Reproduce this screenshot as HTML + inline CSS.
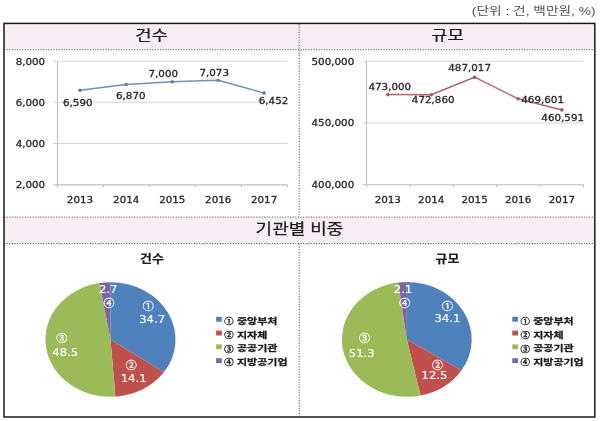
<!DOCTYPE html>
<html lang="ko">
<head>
<meta charset="utf-8">
<style>
html,body{margin:0;padding:0;background:#fff;}
body{width:600px;height:421px;overflow:hidden;}
svg{display:block;will-change:transform;filter:blur(0.3px);}
</style>
</head>
<body>
<svg width="600" height="421" viewBox="0 0 600 421">
<rect x="4" y="24" width="591" height="25.5" fill="#f7edf4"/>
<rect x="4" y="217.5" width="591" height="25.5" fill="#f7edf4"/>
<g stroke="#5a5a5a" stroke-width="1" stroke-dasharray="1.2 1.4" fill="none">
<line x1="4" y1="49.7" x2="595" y2="49.7"/>
<line x1="4" y1="217.1" x2="595" y2="217.1"/>
<line x1="4" y1="243.5" x2="595" y2="243.5"/>
<line x1="299.2" y1="24" x2="299.2" y2="216.6"/>
<line x1="299.2" y1="244" x2="299.2" y2="416"/>
</g>
<text transform="matrix(1.1430 0 0 0.9143 471.86 14.76)" font-family="'Liberation Sans', 'Noto Sans CJK KR', sans-serif" font-weight="400" font-size="12" fill="#505050" text-anchor="start">(단위 : 건, 백만원, %)</text>
<text transform="matrix(1.0450 0 0 0.8300 151.60 39.85)" font-family="'Liberation Sans', 'Noto Sans CJK KR', sans-serif" font-weight="400" font-size="17" fill="#1e1e1e" text-anchor="middle" stroke="#1e1e1e" stroke-width="0.3">건수</text>
<text transform="matrix(1.0450 0 0 0.8300 447.60 39.85)" font-family="'Liberation Sans', 'Noto Sans CJK KR', sans-serif" font-weight="400" font-size="17" fill="#1e1e1e" text-anchor="middle" stroke="#1e1e1e" stroke-width="0.3">규모</text>
<text transform="matrix(1.0600 0 0 0.8400 299.50 234.00)" font-family="'Liberation Sans', 'Noto Sans CJK KR', sans-serif" font-weight="400" font-size="17" fill="#1e1e1e" text-anchor="middle" stroke="#1e1e1e" stroke-width="0.3">기관별 비중</text>
<g stroke="#d4d4d4" stroke-width="1.1">
<line x1="53.5" y1="61.2" x2="287.5" y2="61.2"/>
<line x1="53.5" y1="102.3" x2="287.5" y2="102.3"/>
<line x1="53.5" y1="143.5" x2="287.5" y2="143.5"/>
</g>
<g stroke="#bdbdbd" stroke-width="1.1">
<line x1="57.5" y1="61.2" x2="57.5" y2="187.4"/>
<line x1="53.5" y1="184.9" x2="287.5" y2="184.9"/>
<line x1="103.5" y1="184.9" x2="103.5" y2="187.1"/>
<line x1="149.5" y1="184.9" x2="149.5" y2="187.1"/>
<line x1="195.5" y1="184.9" x2="195.5" y2="187.1"/>
<line x1="241.5" y1="184.9" x2="241.5" y2="187.1"/>
<line x1="287.5" y1="184.9" x2="287.5" y2="187.1"/>
</g>
<text transform="matrix(1.0333 0 0 0.8750 45.20 64.55)" font-family="'DejaVu Sans', sans-serif" font-weight="400" font-size="10" fill="#262626" text-anchor="end" stroke="#262626" stroke-width="0.3">8,000</text>
<text transform="matrix(1.0333 0 0 0.8750 45.20 105.55)" font-family="'DejaVu Sans', sans-serif" font-weight="400" font-size="10" fill="#262626" text-anchor="end" stroke="#262626" stroke-width="0.3">6,000</text>
<text transform="matrix(1.0333 0 0 0.8750 45.20 146.65)" font-family="'DejaVu Sans', sans-serif" font-weight="400" font-size="10" fill="#262626" text-anchor="end" stroke="#262626" stroke-width="0.3">4,000</text>
<text transform="matrix(1.0333 0 0 0.8750 45.20 188.35)" font-family="'DejaVu Sans', sans-serif" font-weight="400" font-size="10" fill="#262626" text-anchor="end" stroke="#262626" stroke-width="0.3">2,000</text>
<text transform="matrix(1.0333 0 0 0.8750 80.00 203.10)" font-family="'DejaVu Sans', sans-serif" font-weight="400" font-size="10" fill="#262626" text-anchor="middle" stroke="#262626" stroke-width="0.3">2013</text>
<text transform="matrix(1.0333 0 0 0.8750 126.20 203.10)" font-family="'DejaVu Sans', sans-serif" font-weight="400" font-size="10" fill="#262626" text-anchor="middle" stroke="#262626" stroke-width="0.3">2014</text>
<text transform="matrix(1.0333 0 0 0.8750 172.30 203.10)" font-family="'DejaVu Sans', sans-serif" font-weight="400" font-size="10" fill="#262626" text-anchor="middle" stroke="#262626" stroke-width="0.3">2015</text>
<text transform="matrix(1.0333 0 0 0.8750 218.20 203.10)" font-family="'DejaVu Sans', sans-serif" font-weight="400" font-size="10" fill="#262626" text-anchor="middle" stroke="#262626" stroke-width="0.3">2016</text>
<text transform="matrix(1.0333 0 0 0.8750 264.10 203.10)" font-family="'DejaVu Sans', sans-serif" font-weight="400" font-size="10" fill="#262626" text-anchor="middle" stroke="#262626" stroke-width="0.3">2017</text>
<polyline points="80.0,90.3 126.2,84.5 172.3,81.8 218.2,80.3 264.1,93.1" fill="none" stroke="#7290b8" stroke-width="1.5" stroke-linejoin="round"/>
<g fill="#5f7fa8"><circle cx="80.0" cy="90.3" r="1.8"/><circle cx="126.2" cy="84.5" r="1.8"/><circle cx="172.3" cy="81.8" r="1.8"/><circle cx="218.2" cy="80.3" r="1.8"/><circle cx="264.1" cy="93.1" r="1.8"/></g>
<text transform="matrix(1.0333 0 0 0.8750 77.80 106.30)" font-family="'DejaVu Sans', sans-serif" font-weight="400" font-size="10" fill="#262626" text-anchor="middle" stroke="#262626" stroke-width="0.3">6,590</text>
<text transform="matrix(1.0333 0 0 0.8750 130.80 99.00)" font-family="'DejaVu Sans', sans-serif" font-weight="400" font-size="10" fill="#262626" text-anchor="middle" stroke="#262626" stroke-width="0.3">6,870</text>
<text transform="matrix(1.0333 0 0 0.8750 163.30 77.40)" font-family="'DejaVu Sans', sans-serif" font-weight="400" font-size="10" fill="#262626" text-anchor="middle" stroke="#262626" stroke-width="0.3">7,000</text>
<text transform="matrix(1.0333 0 0 0.8750 214.20 76.00)" font-family="'DejaVu Sans', sans-serif" font-weight="400" font-size="10" fill="#262626" text-anchor="middle" stroke="#262626" stroke-width="0.3">7,073</text>
<text transform="matrix(1.0333 0 0 0.8750 273.50 104.40)" font-family="'DejaVu Sans', sans-serif" font-weight="400" font-size="10" fill="#262626" text-anchor="middle" stroke="#262626" stroke-width="0.3">6,452</text>
<g stroke="#d4d4d4" stroke-width="1.1">
<line x1="362.5" y1="61.2" x2="583.5" y2="61.2"/>
<line x1="362.5" y1="123.0" x2="583.5" y2="123.0"/>
</g>
<g stroke="#bdbdbd" stroke-width="1.1">
<line x1="366.5" y1="61.2" x2="366.5" y2="187.3"/>
<line x1="362.5" y1="184.8" x2="583.5" y2="184.8"/>
<line x1="409.9" y1="184.8" x2="409.9" y2="187.0"/>
<line x1="453.3" y1="184.8" x2="453.3" y2="187.0"/>
<line x1="496.7" y1="184.8" x2="496.7" y2="187.0"/>
<line x1="540.1" y1="184.8" x2="540.1" y2="187.0"/>
<line x1="583.5" y1="184.8" x2="583.5" y2="187.0"/>
</g>
<text transform="matrix(1.0333 0 0 0.8750 354.20 64.55)" font-family="'DejaVu Sans', sans-serif" font-weight="400" font-size="10" fill="#262626" text-anchor="end" stroke="#262626" stroke-width="0.3">500,000</text>
<text transform="matrix(1.0333 0 0 0.8750 354.20 126.35)" font-family="'DejaVu Sans', sans-serif" font-weight="400" font-size="10" fill="#262626" text-anchor="end" stroke="#262626" stroke-width="0.3">450,000</text>
<text transform="matrix(1.0333 0 0 0.8750 354.20 188.15)" font-family="'DejaVu Sans', sans-serif" font-weight="400" font-size="10" fill="#262626" text-anchor="end" stroke="#262626" stroke-width="0.3">400,000</text>
<text transform="matrix(1.0333 0 0 0.8750 387.80 203.30)" font-family="'DejaVu Sans', sans-serif" font-weight="400" font-size="10" fill="#262626" text-anchor="middle" stroke="#262626" stroke-width="0.3">2013</text>
<text transform="matrix(1.0333 0 0 0.8750 431.20 203.30)" font-family="'DejaVu Sans', sans-serif" font-weight="400" font-size="10" fill="#262626" text-anchor="middle" stroke="#262626" stroke-width="0.3">2014</text>
<text transform="matrix(1.0333 0 0 0.8750 474.60 203.30)" font-family="'DejaVu Sans', sans-serif" font-weight="400" font-size="10" fill="#262626" text-anchor="middle" stroke="#262626" stroke-width="0.3">2015</text>
<text transform="matrix(1.0333 0 0 0.8750 518.10 203.30)" font-family="'DejaVu Sans', sans-serif" font-weight="400" font-size="10" fill="#262626" text-anchor="middle" stroke="#262626" stroke-width="0.3">2016</text>
<text transform="matrix(1.0333 0 0 0.8750 561.90 203.30)" font-family="'DejaVu Sans', sans-serif" font-weight="400" font-size="10" fill="#262626" text-anchor="middle" stroke="#262626" stroke-width="0.3">2017</text>
<polyline points="387.8,94.6 431.2,94.7 474.6,77.2 518.1,98.8 561.9,109.9" fill="none" stroke="#b4646a" stroke-width="1.5" stroke-linejoin="round"/>
<g fill="#a45a60"><circle cx="387.8" cy="94.6" r="1.8"/><circle cx="431.2" cy="94.7" r="1.8"/><circle cx="474.6" cy="77.2" r="1.8"/><circle cx="518.1" cy="98.8" r="1.8"/><circle cx="561.9" cy="109.9" r="1.8"/></g>
<text transform="matrix(1.0333 0 0 0.8750 389.80 90.00)" font-family="'DejaVu Sans', sans-serif" font-weight="400" font-size="10" fill="#262626" text-anchor="middle" stroke="#262626" stroke-width="0.3">473,000</text>
<text transform="matrix(1.0333 0 0 0.8750 433.20 103.00)" font-family="'DejaVu Sans', sans-serif" font-weight="400" font-size="10" fill="#262626" text-anchor="middle" stroke="#262626" stroke-width="0.3">472,860</text>
<text transform="matrix(1.0333 0 0 0.8750 469.60 71.40)" font-family="'DejaVu Sans', sans-serif" font-weight="400" font-size="10" fill="#262626" text-anchor="middle" stroke="#262626" stroke-width="0.3">487,017</text>
<text transform="matrix(1.0333 0 0 0.8750 542.60 103.30)" font-family="'DejaVu Sans', sans-serif" font-weight="400" font-size="10" fill="#262626" text-anchor="middle" stroke="#262626" stroke-width="0.3">469,601</text>
<text transform="matrix(1.0333 0 0 0.8750 562.70 120.70)" font-family="'DejaVu Sans', sans-serif" font-weight="400" font-size="10" fill="#262626" text-anchor="middle" stroke="#262626" stroke-width="0.3">460,591</text>
<path d="M110.50 339.50L110.50 282.20A65.00 57.30 0 0 1 163.80 372.30Z" fill="#4f81bd"/>
<path d="M110.50 339.50L163.80 372.30A65.00 57.30 0 0 1 115.40 396.64Z" fill="#c0504d"/>
<path d="M110.50 339.50L115.40 396.64A65.00 57.30 0 0 1 99.53 283.02Z" fill="#9bbb59"/>
<path d="M110.50 339.50L99.53 283.02A65.00 57.30 0 0 1 110.50 282.20Z" fill="#8064a2"/>
<path d="M406.80 339.40L406.80 282.10A64.90 57.30 0 0 1 461.38 370.41Z" fill="#4f81bd"/>
<path d="M406.80 339.40L461.38 370.41A64.90 57.30 0 0 1 420.56 395.40Z" fill="#c0504d"/>
<path d="M406.80 339.40L420.56 395.40A64.90 57.30 0 1 1 398.26 282.60Z" fill="#9bbb59"/>
<path d="M406.80 339.40L398.26 282.60A64.90 57.30 0 0 1 406.80 282.10Z" fill="#8064a2"/>
<text transform="matrix(1.0565 0 0 0.9375 108.20 292.90)" font-family="'DejaVu Sans', sans-serif" font-weight="400" font-size="11" fill="#fff" text-anchor="middle" stroke="#fff" stroke-width="0.2">2.7</text>
<text transform="matrix(1.1000 0 0 1.0400 103.40 306.76)" font-family="'Noto Sans CJK KR', sans-serif" font-weight="400" font-size="10" fill="#fff" text-anchor="start" stroke="#fff" stroke-width="0.25">④</text>
<text transform="matrix(1.1000 0 0 1.0400 142.70 310.26)" font-family="'Noto Sans CJK KR', sans-serif" font-weight="400" font-size="10" fill="#fff" text-anchor="start" stroke="#fff" stroke-width="0.25">①</text>
<text transform="matrix(1.0565 0 0 0.9375 152.10 322.90)" font-family="'DejaVu Sans', sans-serif" font-weight="400" font-size="11" fill="#fff" text-anchor="middle" stroke="#fff" stroke-width="0.2">34.7</text>
<text transform="matrix(1.1000 0 0 1.0400 56.20 342.26)" font-family="'Noto Sans CJK KR', sans-serif" font-weight="400" font-size="10" fill="#fff" text-anchor="start" stroke="#fff" stroke-width="0.25">③</text>
<text transform="matrix(1.0565 0 0 0.9375 65.20 356.00)" font-family="'DejaVu Sans', sans-serif" font-weight="400" font-size="11" fill="#fff" text-anchor="middle" stroke="#fff" stroke-width="0.2">48.5</text>
<text transform="matrix(1.1000 0 0 1.0400 125.70 368.96)" font-family="'Noto Sans CJK KR', sans-serif" font-weight="400" font-size="10" fill="#fff" text-anchor="start" stroke="#fff" stroke-width="0.25">②</text>
<text transform="matrix(1.0565 0 0 0.9375 133.60 381.90)" font-family="'DejaVu Sans', sans-serif" font-weight="400" font-size="11" fill="#fff" text-anchor="middle" stroke="#fff" stroke-width="0.2">14.1</text>
<text transform="matrix(1.0565 0 0 0.9375 403.00 293.00)" font-family="'DejaVu Sans', sans-serif" font-weight="400" font-size="11" fill="#fff" text-anchor="middle" stroke="#fff" stroke-width="0.2">2.1</text>
<text transform="matrix(1.1000 0 0 1.0400 399.30 307.26)" font-family="'Noto Sans CJK KR', sans-serif" font-weight="400" font-size="10" fill="#fff" text-anchor="start" stroke="#fff" stroke-width="0.25">④</text>
<text transform="matrix(1.1000 0 0 1.0400 441.90 310.26)" font-family="'Noto Sans CJK KR', sans-serif" font-weight="400" font-size="10" fill="#fff" text-anchor="start" stroke="#fff" stroke-width="0.25">①</text>
<text transform="matrix(1.0565 0 0 0.9375 447.40 322.40)" font-family="'DejaVu Sans', sans-serif" font-weight="400" font-size="11" fill="#fff" text-anchor="middle" stroke="#fff" stroke-width="0.2">34.1</text>
<text transform="matrix(1.1000 0 0 1.0400 359.10 342.16)" font-family="'Noto Sans CJK KR', sans-serif" font-weight="400" font-size="10" fill="#fff" text-anchor="start" stroke="#fff" stroke-width="0.25">③</text>
<text transform="matrix(1.0565 0 0 0.9375 361.70 356.90)" font-family="'DejaVu Sans', sans-serif" font-weight="400" font-size="11" fill="#fff" text-anchor="middle" stroke="#fff" stroke-width="0.2">51.3</text>
<text transform="matrix(1.1000 0 0 1.0400 432.00 368.66)" font-family="'Noto Sans CJK KR', sans-serif" font-weight="400" font-size="10" fill="#fff" text-anchor="start" stroke="#fff" stroke-width="0.25">②</text>
<text transform="matrix(1.0565 0 0 0.9375 434.50 379.00)" font-family="'DejaVu Sans', sans-serif" font-weight="400" font-size="11" fill="#fff" text-anchor="middle" stroke="#fff" stroke-width="0.2">12.5</text>
<text transform="matrix(1.0794 0 0 0.9148 152.00 263.20)" font-family="'Liberation Sans', 'Noto Sans CJK KR', sans-serif" font-weight="700" font-size="12" fill="#1e1e1e" text-anchor="middle" stroke="#1e1e1e" stroke-width="0.2">건수</text>
<text transform="matrix(1.0794 0 0 0.9148 447.50 263.20)" font-family="'Liberation Sans', 'Noto Sans CJK KR', sans-serif" font-weight="700" font-size="12" fill="#1e1e1e" text-anchor="middle" stroke="#1e1e1e" stroke-width="0.2">규모</text>
<rect x="216.1" y="316.8" width="5.7" height="4.9" fill="#4f81bd"/>
<text transform="matrix(0.9400 0 0 0.8000 224.30 323.90)" font-family="'Noto Sans CJK KR', sans-serif" font-weight="400" font-size="10" fill="#1a1a1a" text-anchor="start" stroke="#1a1a1a" stroke-width="0.45">①</text>
<text transform="matrix(1.1000 0 0 0.8400 237.00 323.86)" font-family="'Liberation Sans', 'Noto Sans CJK KR', sans-serif" font-weight="700" font-size="10" fill="#1a1a1a" text-anchor="start" stroke="#1a1a1a" stroke-width="0.3">중앙부처</text>
<rect x="216.1" y="330.6" width="5.7" height="4.9" fill="#c0504d"/>
<text transform="matrix(0.9400 0 0 0.8000 224.30 337.70)" font-family="'Noto Sans CJK KR', sans-serif" font-weight="400" font-size="10" fill="#1a1a1a" text-anchor="start" stroke="#1a1a1a" stroke-width="0.45">②</text>
<text transform="matrix(1.1000 0 0 0.8400 237.00 337.66)" font-family="'Liberation Sans', 'Noto Sans CJK KR', sans-serif" font-weight="700" font-size="10" fill="#1a1a1a" text-anchor="start" stroke="#1a1a1a" stroke-width="0.3">지자체</text>
<rect x="216.1" y="344.4" width="5.7" height="4.9" fill="#9bbb59"/>
<text transform="matrix(0.9400 0 0 0.8000 224.30 351.50)" font-family="'Noto Sans CJK KR', sans-serif" font-weight="400" font-size="10" fill="#1a1a1a" text-anchor="start" stroke="#1a1a1a" stroke-width="0.45">③</text>
<text transform="matrix(1.1000 0 0 0.8400 237.00 351.46)" font-family="'Liberation Sans', 'Noto Sans CJK KR', sans-serif" font-weight="700" font-size="10" fill="#1a1a1a" text-anchor="start" stroke="#1a1a1a" stroke-width="0.3">공공기관</text>
<rect x="216.1" y="358.2" width="5.7" height="4.9" fill="#8064a2"/>
<text transform="matrix(0.9400 0 0 0.8000 224.30 365.30)" font-family="'Noto Sans CJK KR', sans-serif" font-weight="400" font-size="10" fill="#1a1a1a" text-anchor="start" stroke="#1a1a1a" stroke-width="0.45">④</text>
<text transform="matrix(1.1000 0 0 0.8400 237.00 365.26)" font-family="'Liberation Sans', 'Noto Sans CJK KR', sans-serif" font-weight="700" font-size="10" fill="#1a1a1a" text-anchor="start" stroke="#1a1a1a" stroke-width="0.3">지방공기업</text>
<rect x="512.3" y="316.8" width="5.7" height="4.9" fill="#4f81bd"/>
<text transform="matrix(0.9400 0 0 0.8000 520.50 323.90)" font-family="'Noto Sans CJK KR', sans-serif" font-weight="400" font-size="10" fill="#1a1a1a" text-anchor="start" stroke="#1a1a1a" stroke-width="0.45">①</text>
<text transform="matrix(1.1000 0 0 0.8400 533.20 323.86)" font-family="'Liberation Sans', 'Noto Sans CJK KR', sans-serif" font-weight="700" font-size="10" fill="#1a1a1a" text-anchor="start" stroke="#1a1a1a" stroke-width="0.3">중앙부처</text>
<rect x="512.3" y="330.6" width="5.7" height="4.9" fill="#c0504d"/>
<text transform="matrix(0.9400 0 0 0.8000 520.50 337.70)" font-family="'Noto Sans CJK KR', sans-serif" font-weight="400" font-size="10" fill="#1a1a1a" text-anchor="start" stroke="#1a1a1a" stroke-width="0.45">②</text>
<text transform="matrix(1.1000 0 0 0.8400 533.20 337.66)" font-family="'Liberation Sans', 'Noto Sans CJK KR', sans-serif" font-weight="700" font-size="10" fill="#1a1a1a" text-anchor="start" stroke="#1a1a1a" stroke-width="0.3">지자체</text>
<rect x="512.3" y="344.4" width="5.7" height="4.9" fill="#9bbb59"/>
<text transform="matrix(0.9400 0 0 0.8000 520.50 351.50)" font-family="'Noto Sans CJK KR', sans-serif" font-weight="400" font-size="10" fill="#1a1a1a" text-anchor="start" stroke="#1a1a1a" stroke-width="0.45">③</text>
<text transform="matrix(1.1000 0 0 0.8400 533.20 351.46)" font-family="'Liberation Sans', 'Noto Sans CJK KR', sans-serif" font-weight="700" font-size="10" fill="#1a1a1a" text-anchor="start" stroke="#1a1a1a" stroke-width="0.3">공공기관</text>
<rect x="512.3" y="358.2" width="5.7" height="4.9" fill="#8064a2"/>
<text transform="matrix(0.9400 0 0 0.8000 520.50 365.30)" font-family="'Noto Sans CJK KR', sans-serif" font-weight="400" font-size="10" fill="#1a1a1a" text-anchor="start" stroke="#1a1a1a" stroke-width="0.45">④</text>
<text transform="matrix(1.1000 0 0 0.8400 533.20 365.26)" font-family="'Liberation Sans', 'Noto Sans CJK KR', sans-serif" font-weight="700" font-size="10" fill="#1a1a1a" text-anchor="start" stroke="#1a1a1a" stroke-width="0.3">지방공기업</text>
<rect x="4" y="23.4" width="590.8" height="393.6" fill="none" stroke="#1a1a1a" stroke-width="1.5"/>
</svg>
</body>
</html>
